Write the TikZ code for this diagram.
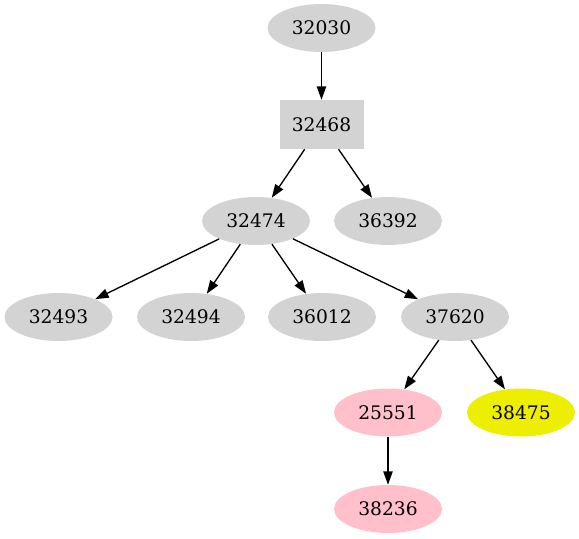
\documentclass[tikz,border=0pt]{standalone}
\usepackage{fontspec}
\setmainfont{DejaVu Serif}
\usetikzlibrary{shapes.geometric,arrows.meta}
\definecolor{nodegray}{HTML}{D3D3D3}
\definecolor{nodepink}{HTML}{FFC0CB}
\definecolor{nodeyellow}{HTML}{EEEE00}
\tikzset{
  oval/.style={ellipse, fill=nodegray, minimum width=81pt, minimum height=36pt, inner sep=0pt, font=\fontsize{14}{16}\selectfont},
  boxnode/.style={rectangle, fill=nodegray, minimum width=63pt, minimum height=36.75pt, inner sep=0pt, font=\fontsize{14}{16}\selectfont},
  edge/.style={-{Triangle[length=10pt,width=7pt]}, line width=1pt}
}
\begin{document}
\begin{tikzpicture}[x=0.75pt,y=0.75pt,yscale=-1,xscale=1]
        \path (0,0) rectangle (579,539); %set diagram size

        %Shape: Ellipse [id:n32030]
        \node [oval] (n32030) at (321.5,28) {32030};
        %Shape: Rectangle [id:n32468]
        \node [boxnode] (n32468) at (321.5,124.5) {32468};
        %Shape: Ellipse [id:n32474]
        \node [oval] (n32474) at (256,221) {32474};
        %Shape: Ellipse [id:n36392]
        \node [oval] (n36392) at (388,221) {36392};
        %Shape: Ellipse [id:n32493]
        \node [oval] (n32493) at (58.5,317) {32493};
        %Shape: Ellipse [id:n32494]
        \node [oval] (n32494) at (191,317) {32494};
        %Shape: Ellipse [id:n36012]
        \node [oval] (n36012) at (322,317) {36012};
        %Shape: Ellipse [id:n37620]
        \node [oval] (n37620) at (455,317) {37620};
        %Shape: Ellipse [id:n25551]
        \node [oval, fill=nodepink] (n25551) at (388,412.5) {25551};
        %Shape: Ellipse [id:n38475]
        \node [oval, fill=nodeyellow] (n38475) at (521,412.5) {38475};
        %Shape: Ellipse [id:n38236]
        \node [oval, fill=nodepink] (n38236) at (388,509) {38236};

        %Straight Lines
        \draw [edge] (n32030) -- (n32468);
        \draw [edge] (n32468) -- (n32474);
        \draw [edge] (n32468) -- (n36392);
        \draw [edge] (n32474) -- (n32493);
        \draw [edge] (n32474) -- (n32494);
        \draw [edge] (n32474) -- (n36012);
        \draw [edge] (n32474) -- (n37620);
        \draw [edge] (n37620) -- (n25551);
        \draw [edge] (n37620) -- (n38475);
        \draw [edge] (n25551) -- (n38236);

\end{tikzpicture}
\end{document}
